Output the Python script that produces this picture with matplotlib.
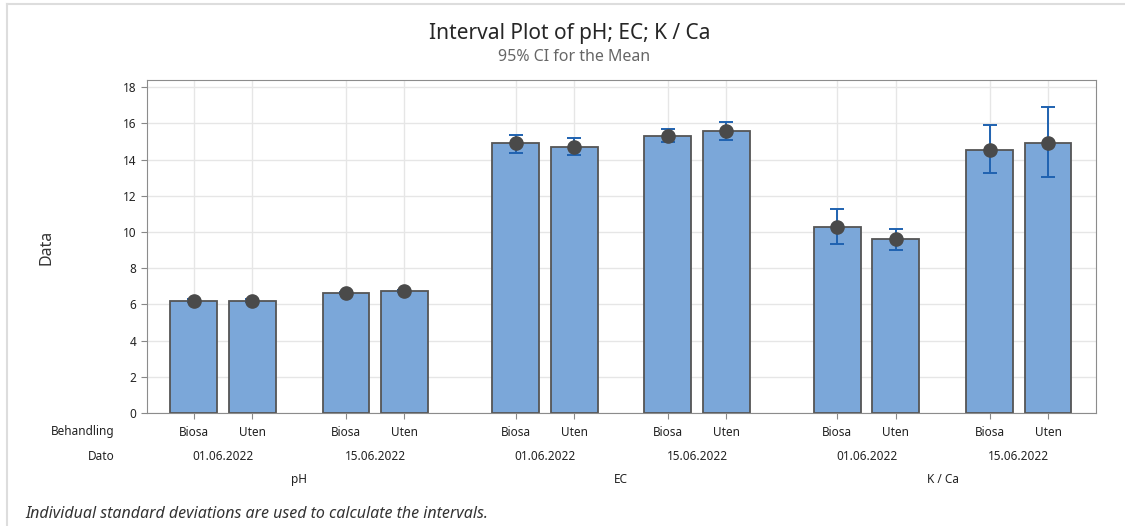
#!/usr/bin/env python3
# -*- coding: utf-8 -*-
import numpy as np
import matplotlib
matplotlib.use('Agg')
import matplotlib.pyplot as plt
from matplotlib.lines import Line2D

# --------------------------------------------------
# data
# --------------------------------------------------
groups = ['pH', 'EC', 'K / Ca']
dates = ['01.06.2022', '15.06.2022']
treatments = ['Biosa', 'Uten']

means = [6.20, 6.20, 6.63, 6.74,
         14.90, 14.72, 15.32, 15.56,
         10.29, 9.60, 14.53, 14.92]
ci_low = [6.12, 6.12, 6.55, 6.66,
          14.37, 14.28, 14.95, 15.10,
          9.32, 8.99, 13.24, 13.02]
ci_high = [6.28, 6.28, 6.71, 6.82,
           15.34, 15.17, 15.72, 16.09,
           11.29, 10.15, 15.90, 16.89]

yticks = [0, 2, 4, 6, 8, 10, 12, 14, 16, 18]

# --------------------------------------------------
# positions
# --------------------------------------------------
g_step, d_step = 5.5, 2.6
xs, tlabels, date_pos, group_pos = [], [], [], []
for gi, g in enumerate(groups):
    for di, d in enumerate(dates):
        base = gi * g_step + di * d_step
        for ti, t in enumerate(treatments):
            xs.append(base + ti)
            tlabels.append(t)
        date_pos.append((base + 0.5, d))
    group_pos.append((gi * g_step + d_step / 2 + 0.5, g))
xs = np.array(xs)
means = np.array(means)
err = np.vstack([means - np.array(ci_low), np.array(ci_high) - means])

# --------------------------------------------------
# plot
# --------------------------------------------------
plt.rcParams['font.family'] = ['Noto Sans', 'DejaVu Sans']
fig = plt.figure(figsize=(11.25, 5.26), dpi=100)
ax = fig.add_axes([147 / 1125, 1 - 413 / 526, 949 / 1125, 333 / 526])

ax.bar(xs, means, width=0.8, color='#7ba7d9', edgecolor='#555555',
       linewidth=1.3, zorder=2)
ax.errorbar(xs, means, yerr=err, fmt='none', ecolor='#1f62b0',
            elinewidth=1.4, capsize=5, capthick=1.4, zorder=3)
ax.plot(xs, means, 'o', color='#4a4a4a', markersize=9.5, zorder=4)

ax.set_xlim(-0.8, 15.42)
ax.set_ylim(0, 18.4)
ax.set_yticks(yticks)
ax.set_xticks(xs)
ax.set_xticklabels([])
ax.tick_params(axis='both', colors='#888888', labelcolor='#222222',
               labelsize=8.5, length=4)
ax.grid(True, color='#e6e6e6', linewidth=1, zorder=0)
ax.set_axisbelow(True)
for s in ax.spines.values():
    s.set_color('#8c8c8c')
fig.text(47 / 1125, 1 - 247 / 526, 'Data', rotation=90, ha='center',
         va='center', fontsize=11.5, color='#333333')

# hierarchical x labels
tr = ax.get_xaxis_transform()
for x, t in zip(xs, tlabels):
    ax.text(x, -0.06, t, transform=tr, ha='center', va='center',
            fontsize=8.5, color='#222222')
for x, d in date_pos:
    ax.text(x, -0.13, d, transform=tr, ha='center', va='center',
            fontsize=8.5, color='#222222')
for x, g in group_pos:
    ax.text(x, -0.20, g, transform=tr, ha='center', va='center',
            fontsize=8.5, color='#222222')
fig.text(115 / 1125, 1 - 432 / 526, 'Behandling', ha='right', va='center',
         fontsize=8.5, color='#222222')
fig.text(115 / 1125, 1 - 456 / 526, 'Dato', ha='right', va='center',
         fontsize=8.5, color='#222222')

# titles and footnote
fig.text(570 / 1125, 1 - 33 / 526, 'Interval Plot of pH; EC; K / Ca',
         ha='center', va='center', fontsize=15, color='#262626')
fig.text(574 / 1125, 1 - 57 / 526, '95% CI for the Mean',
         ha='center', va='center', fontsize=11.5, color='#666666')
fig.text(25 / 1125, 1 - 514 / 526,
         'Individual standard deviations are used to calculate the intervals.',
         ha='left', va='center', fontsize=11.5, style='italic', color='#333333')

# light frame
fig.add_artist(Line2D([7 / 1125, 1], [1 - 4 / 526] * 2, color='#dddddd',
                      linewidth=1.5, transform=fig.transFigure))
fig.add_artist(Line2D([7 / 1125] * 2, [0, 1 - 4 / 526], color='#dddddd',
                      linewidth=1.5, transform=fig.transFigure))

fig.savefig('out.png', dpi=100)
